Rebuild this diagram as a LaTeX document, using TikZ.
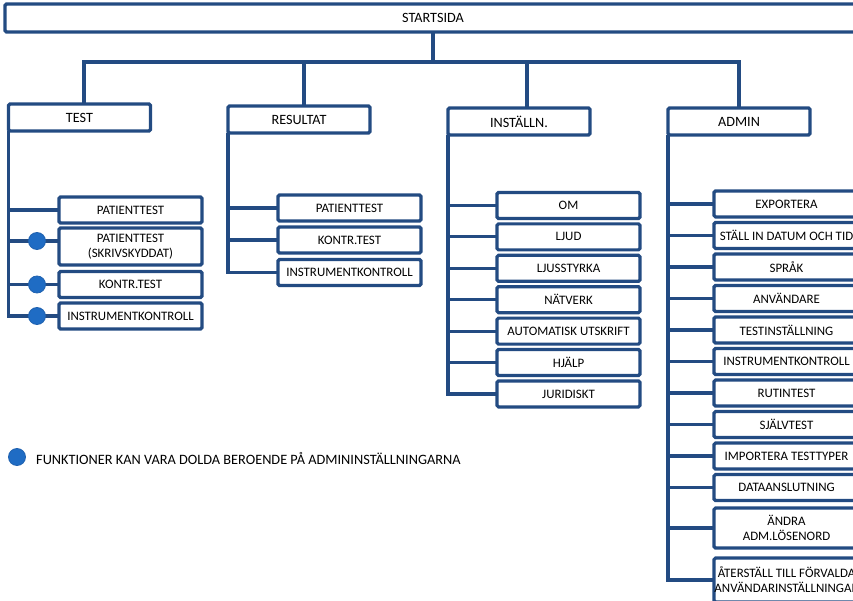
\documentclass[tikz,border=0pt]{standalone}
\usepackage{fontspec}
\setmainfont{Carlito}
\definecolor{navy}{HTML}{234B82}
\definecolor{dotblue}{HTML}{1F6CC4}
\begin{document}
\begin{tikzpicture}[
x=1pt,y=-1pt,
box/.style={
rectangle,draw=navy,line width=3.2pt,rounded corners=1.5pt,
align=center,inner sep=0pt,outer sep=0pt,fill=white,
minimum width=143pt,
minimum height=26pt,
font=\fontsize{12.9}{15}\selectfont
},
head/.style={
box,
minimum width=142pt,
minimum height=27pt,
font=\fontsize{14.2}{16}\selectfont
},
link/.style={draw=navy,line width=3.2pt},
dot/.style={
circle,draw=dotblue!70!navy,fill=dotblue,line width=0.8pt,
minimum size=17pt,inner sep=0pt
}
]
\useasboundingbox (0,0) rectangle (853,601);
\clip (0,0) rectangle (853,601);

% =======================
% TOP LEVEL
% =======================

\node[head,minimum width=856pt,minimum height=28pt] (start) at (433,18) {STARTSIDA};

\node[head] (test) at (79.5,117.5) {TEST};
\node[head] (result) at (299,119.5) {RESULTAT};
\node[head] (settings) at (519,121.5) {INSTÄLLN.};
\node[head] (admin) at (739,121.5) {ADMIN};

\coordinate (bar-test) at (84,62);
\coordinate (bar-result) at (304,62);
\coordinate (bar-settings) at (527,62);
\coordinate (bar-admin) at (739,62);

\draw[link] (bar-test |- test.north) -- (bar-test) -- (bar-admin) -- (bar-admin |- admin.north);
\draw[link] (start.south) -- (start.south |- bar-test);
\draw[link] (bar-result) -- (bar-result |- result.north);
\draw[link] (bar-settings) -- (bar-settings |- settings.north);

% =======================
% TEST
% =======================

\node[box] (t-patient) at (130.5,210) {PATIENTTEST};
\node[box,minimum height=37pt] (t-locked) at (130.5,246.5) {PATIENTTEST\\(SKRIVSKYDDAT)};
\node[box] (t-control) at (130.5,284.5) {KONTR.TEST};
\node[box] (t-instr) at (130.5,316) {INSTRUMENTKONTROLL};

\coordinate (t-locked-in) at ([yshift=5.5pt]t-locked.west);
\draw[link] (test.south west) |- (t-instr.west);
\draw[link] (test.south west |- t-patient.west) -- (t-patient.west);
\draw[link] (test.south west |- t-locked-in) -- (t-locked-in);
\draw[link] (test.south west |- t-control.west) -- (t-control.west);

\node[dot] (dot-locked) at (37,241) {};
\node[dot] (dot-control) at (37,284.5) {};
\node[dot] (dot-instr) at (37,316) {};

% =======================
% RESULTAT
% =======================

\node[box] (r-patient) at (349.5,208) {PATIENTTEST};
\node[box] (r-control) at (349.5,240) {KONTR.TEST};
\node[box] (r-instr) at (349.5,272.5) {INSTRUMENTKONTROLL};

\draw[link] (result.south west) |- (r-instr.west);
\draw[link] (result.south west |- r-patient.west) -- (r-patient.west);
\draw[link] (result.south west |- r-control.west) -- (r-control.west);

% =======================
% INSTÄLLN.
% =======================

\foreach \txt [count=\i] in {OM,LJUD,LJUSSTYRKA,NÄTVERK,AUTOMATISK UTSKRIFT,HJÄLP,JURIDISKT}
  \node[box] (s-\i) at (568.5,{205.5+31.4*(\i-1)}) {\txt};

\draw[link] (settings.south west) |- (s-7.west);
\foreach \i in {1,...,6}
  \draw[link] (settings.south west |- s-\i.west) -- (s-\i.west);

% =======================
% ADMIN
% =======================

\foreach \txt [count=\i] in {EXPORTERA,STÄLL IN DATUM OCH TID,SPRÅK,ANVÄNDARE,TESTINSTÄLLNING,INSTRUMENTKONTROLL,RUTINTEST,SJÄLVTEST,IMPORTERA TESTTYPER,DATAANSLUTNING}
  \node[box,minimum width=145pt] (a-\i) at (786.5,{204+31.5*(\i-1)}) {\txt};

\node[box,minimum width=145pt,minimum height=40pt] (a-11) at (786.5,528) {ÄNDRA\\ADM.LÖSENORD};
\node[box,minimum width=145pt,minimum height=44pt] (a-12) at (786.5,580) {ÅTERSTÄLL TILL FÖRVALDA\\ANVÄNDARINSTÄLLNINGAR};

\draw[link] (admin.south west) |- (a-12.west);
\foreach \i in {1,...,11}
  \draw[link] (admin.south west |- a-\i.west) -- (a-\i.west);

% =======================
% NOTE
% =======================

\node[dot] (note-dot) at (17,457) {};
\node[anchor=west,inner sep=0pt,font=\fontsize{14.3}{16}\selectfont] (note) at (36,458)
{FUNKTIONER KAN VARA DOLDA BEROENDE PÅ ADMININSTÄLLNINGARNA};

\end{tikzpicture}
\end{document}
